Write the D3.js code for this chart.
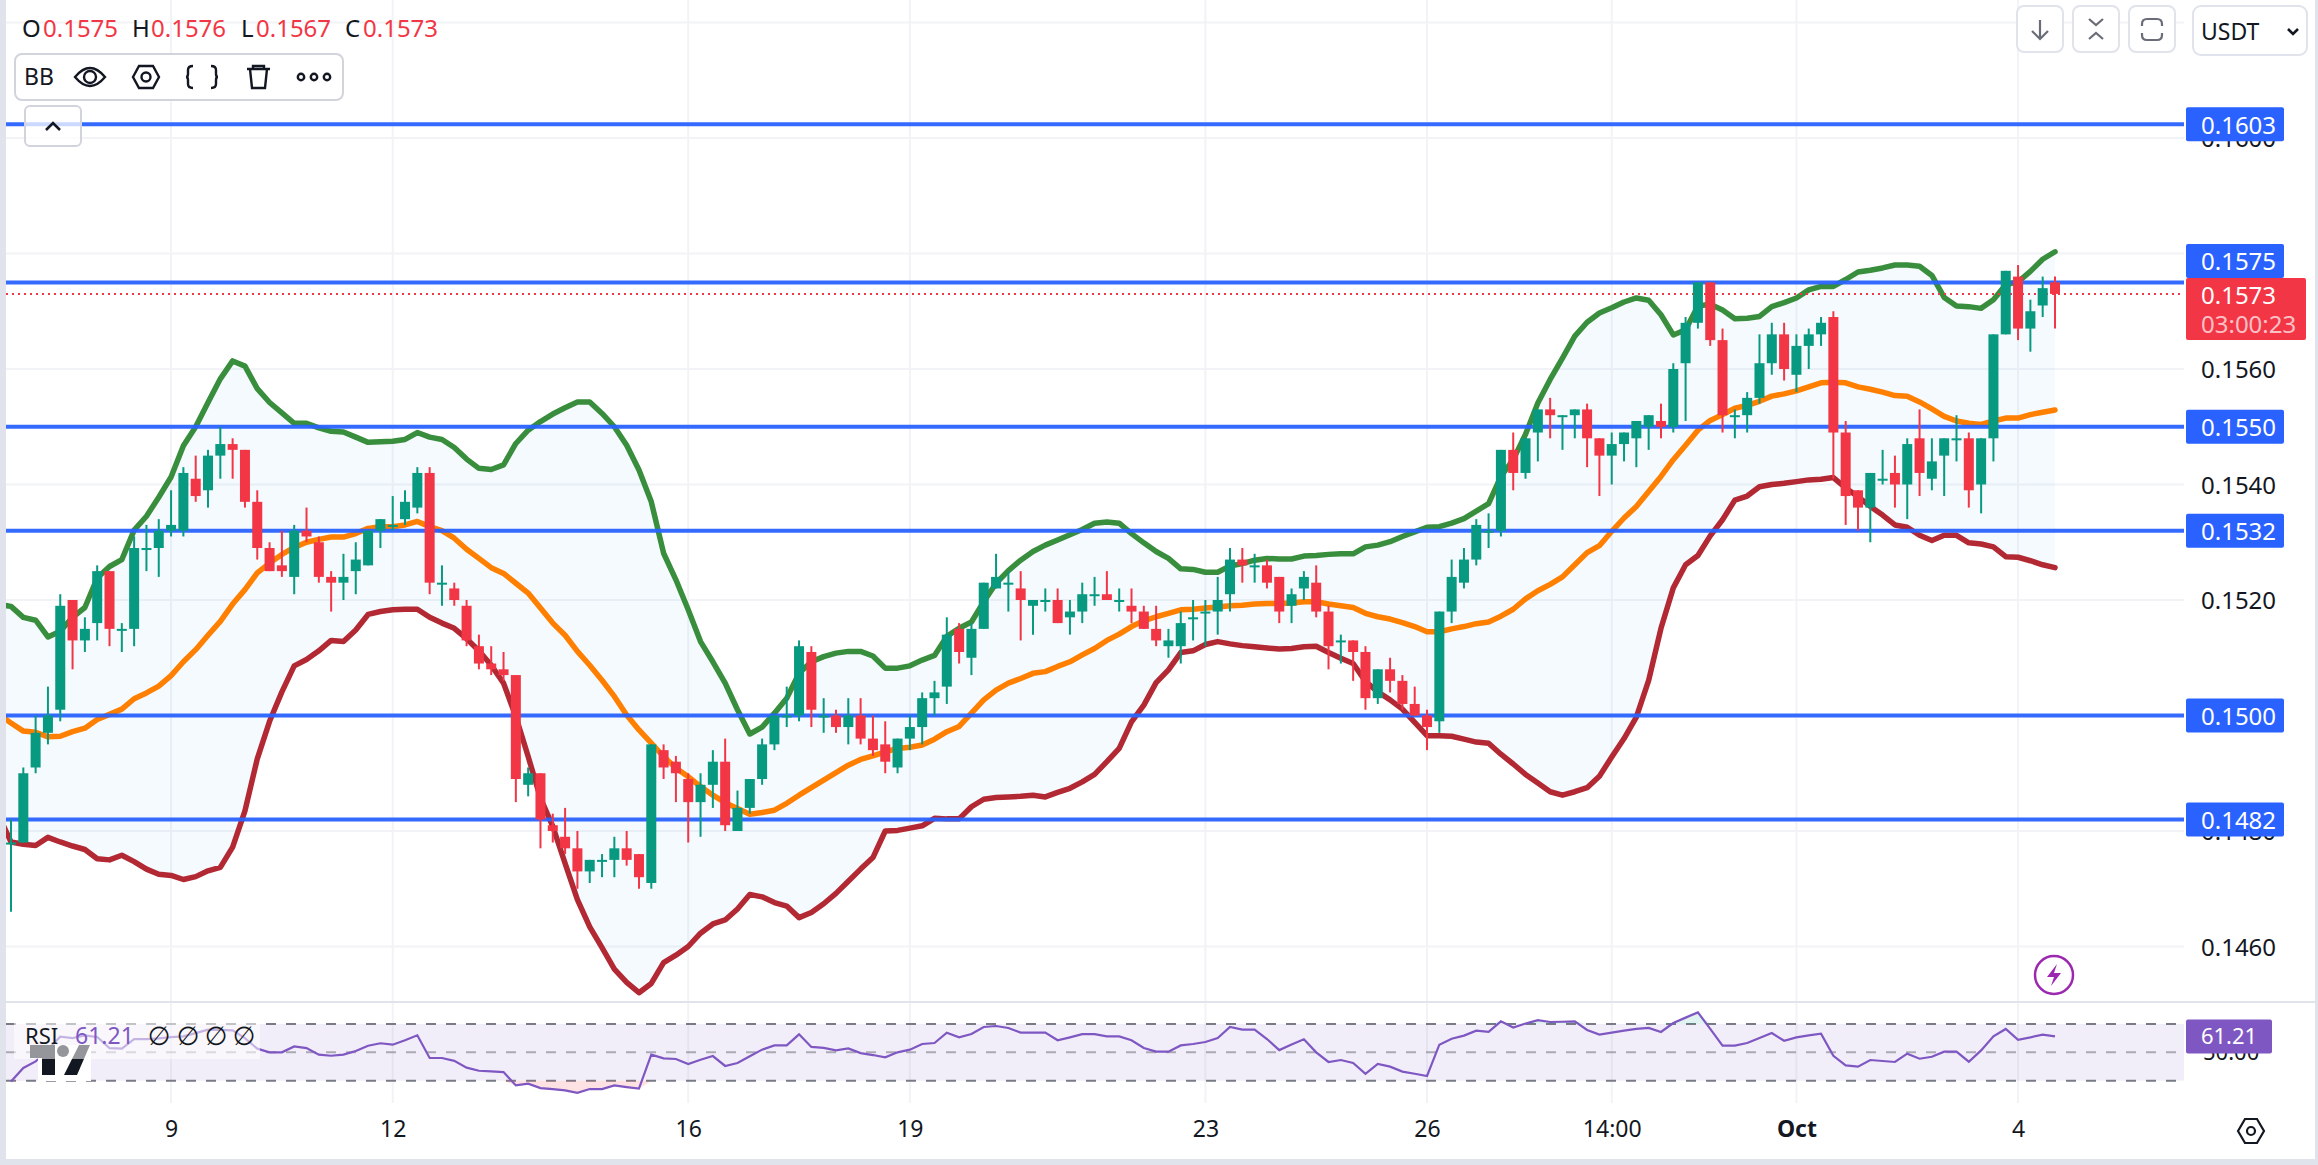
<!DOCTYPE html>
<html>
<head>
<meta charset="utf-8">
<title>USDT 4h chart</title>
<script src="https://cdnjs.cloudflare.com/ajax/libs/d3/7.8.5/d3.min.js"></script>
<style>
  html, body { margin: 0; padding: 0; background: #fff; overflow: hidden; }
  svg { display: block; }
  text { font-family: "Noto Sans", "DejaVu Sans", sans-serif; }
</style>
</head>
<body>
<svg id="chart" width="2318" height="1165"></svg>
<script>
// candles, one entry per 4h bar
const opens = [0.1478,0.1478,0.1491,0.1497,0.1501,0.1520,0.1513,0.1516,0.1525,0.1515,0.1515,0.1529,0.1529,0.1532,0.1532,0.1541,0.1539,0.1545,0.1547,0.1546,0.1537,0.1529,0.1526,0.1524,0.1532,0.1530,0.1524,0.1523,0.1525,0.1526,0.1532,0.1533,0.1534,0.1536,0.1542,0.1523,0.1522,0.1519,0.1512,0.1509,0.1508,0.1507,0.1488,0.1490,0.1481,0.1479,0.1477,0.1473,0.1475,0.1475,0.1477,0.1476,0.1471,0.1494,0.1492,0.1489,0.1485,0.1488,0.1492,0.1480,0.1484,0.1489,0.1495,0.1500,0.1500,0.1511,0.1500,0.1500,0.1498,0.1500,0.1496,0.1495,0.1491,0.1496,0.1498,0.1503,0.1505,0.1515,0.1510,0.1515,0.1522,0.1523,0.1522,0.1519,0.1520,0.1520,0.1517,0.1518,0.1521,0.1521,0.1520,0.1519,0.1518,0.1515,0.1512,0.1512,0.1517,0.1518,0.1518,0.1521,0.1527,0.1526,0.1526,0.1524,0.1519,0.1522,0.1523,0.1518,0.1513,0.1513,0.1511,0.1503,0.1508,0.1506,0.1502,0.1500,0.1499,0.1518,0.1523,0.1527,0.1532,0.1532,0.1546,0.1542,0.1549,0.1553,0.1552,0.1552,0.1553,0.1548,0.1545,0.1547,0.1548,0.1550,0.1551,0.1550,0.1561,0.1568,0.1575,0.1565,0.1552,0.1552,0.1555,0.1561,0.1566,0.1559,0.1564,0.1566,0.1569,0.1549,0.1539,0.1536,0.1541,0.1542,0.1540,0.1548,0.1541,0.1545,0.1548,0.1548,0.1540,0.1548,0.1566,0.1576,0.1567,0.1571,0.1575];
const highs = [0.1482,0.1491,0.1500,0.1505,0.1521,0.1520,0.1517,0.1526,0.1525,0.1516,0.1531,0.1533,0.1534,0.1539,0.1543,0.1545,0.1546,0.1550,0.1548,0.1546,0.1539,0.1530,0.1532,0.1533,0.1536,0.1531,0.1525,0.1528,0.1530,0.1532,0.1534,0.1538,0.1539,0.1543,0.1543,0.1526,0.1523,0.1520,0.1514,0.1512,0.1511,0.1507,0.1491,0.1490,0.1483,0.1484,0.1480,0.1475,0.1476,0.1479,0.1480,0.1476,0.1495,0.1495,0.1493,0.1490,0.1490,0.1494,0.1496,0.1487,0.1489,0.1496,0.1500,0.1505,0.1513,0.1512,0.1503,0.1501,0.1503,0.1503,0.1500,0.1499,0.1496,0.1500,0.1504,0.1506,0.1517,0.1516,0.1516,0.1523,0.1528,0.1525,0.1525,0.1520,0.1522,0.1522,0.1520,0.1523,0.1524,0.1525,0.1522,0.1522,0.1519,0.1519,0.1515,0.1518,0.1520,0.1520,0.1524,0.1529,0.1529,0.1528,0.1527,0.1524,0.1522,0.1525,0.1526,0.1519,0.1514,0.1513,0.1512,0.1508,0.1510,0.1507,0.1505,0.1501,0.1518,0.1527,0.1529,0.1534,0.1535,0.1546,0.1549,0.1548,0.1553,0.1555,0.1552,0.1553,0.1554,0.1548,0.1549,0.1549,0.1551,0.1552,0.1554,0.1561,0.1569,0.1575,0.1575,0.1567,0.1553,0.1556,0.1566,0.1568,0.1568,0.1566,0.1567,0.1569,0.1570,0.1551,0.1539,0.1542,0.1546,0.1545,0.1548,0.1553,0.1548,0.1548,0.1552,0.1549,0.1548,0.1566,0.1577,0.1578,0.1572,0.1576,0.1576];
const lows = [0.1466,0.1478,0.1490,0.1495,0.1499,0.1508,0.1511,0.1513,0.1512,0.1511,0.1512,0.1525,0.1524,0.1531,0.1531,0.1537,0.1536,0.1541,0.1541,0.1536,0.1527,0.1525,0.1524,0.1521,0.1530,0.1523,0.1518,0.1520,0.1521,0.1526,0.1529,0.1532,0.1533,0.1535,0.1521,0.1519,0.1519,0.1512,0.1508,0.1507,0.1506,0.1485,0.1486,0.1477,0.1478,0.1476,0.1470,0.1471,0.1472,0.1472,0.1474,0.1470,0.1470,0.1489,0.1485,0.1478,0.1479,0.1484,0.1480,0.1480,0.1483,0.1488,0.1494,0.1498,0.1499,0.1498,0.1497,0.1497,0.1495,0.1495,0.1493,0.1490,0.1490,0.1494,0.1495,0.1500,0.1502,0.1509,0.1507,0.1515,0.1522,0.1518,0.1513,0.1514,0.1518,0.1516,0.1514,0.1516,0.1519,0.1520,0.1518,0.1516,0.1515,0.1512,0.1510,0.1509,0.1513,0.1512,0.1514,0.1518,0.1523,0.1523,0.1522,0.1516,0.1516,0.1520,0.1517,0.1508,0.1509,0.1506,0.1501,0.1502,0.1504,0.1501,0.1500,0.1494,0.1497,0.1516,0.1522,0.1526,0.1529,0.1531,0.1539,0.1541,0.1544,0.1548,0.1546,0.1548,0.1543,0.1538,0.1540,0.1544,0.1543,0.1546,0.1548,0.1549,0.1551,0.1567,0.1564,0.1549,0.1548,0.1549,0.1554,0.1559,0.1558,0.1556,0.1560,0.1564,0.1541,0.1533,0.1532,0.1530,0.1540,0.1536,0.1534,0.1538,0.1539,0.1538,0.1544,0.1536,0.1535,0.1544,0.1566,0.1565,0.1563,0.1569,0.1567];
const closes = [0.1478,0.1490,0.1497,0.1500,0.1519,0.1513,0.1515,0.1525,0.1515,0.1515,0.1529,0.1529,0.1532,0.1533,0.1542,0.1538,0.1545,0.1547,0.1546,0.1537,0.1529,0.1525,0.1525,0.1532,0.1531,0.1524,0.1523,0.1524,0.1527,0.1532,0.1534,0.1533,0.1537,0.1542,0.1523,0.1523,0.1520,0.1513,0.1509,0.1508,0.1507,0.1489,0.1490,0.1482,0.1480,0.1477,0.1473,0.1475,0.1475,0.1477,0.1475,0.1472,0.1495,0.1491,0.1490,0.1485,0.1488,0.1492,0.1481,0.1484,0.1489,0.1495,0.1500,0.1500,0.1512,0.1501,0.1500,0.1498,0.1500,0.1496,0.1494,0.1492,0.1496,0.1498,0.1503,0.1504,0.1514,0.1511,0.1515,0.1523,0.1524,0.1523,0.1520,0.1520,0.1520,0.1516,0.1518,0.1521,0.1521,0.1520,0.1520,0.1518,0.1515,0.1513,0.1513,0.1516,0.1517,0.1518,0.1520,0.1527,0.1526,0.1526,0.1523,0.1518,0.1521,0.1524,0.1518,0.1512,0.1513,0.1511,0.1503,0.1508,0.1506,0.1502,0.1500,0.1498,0.1518,0.1524,0.1527,0.1533,0.1532,0.1546,0.1542,0.1548,0.1553,0.1552,0.1552,0.1553,0.1548,0.1545,0.1547,0.1549,0.1551,0.1552,0.1550,0.1560,0.1568,0.1575,0.1565,0.1552,0.1552,0.1555,0.1561,0.1566,0.1560,0.1564,0.1566,0.1568,0.1549,0.1538,0.1536,0.1542,0.1541,0.1540,0.1547,0.1542,0.1544,0.1548,0.1548,0.1539,0.1548,0.1566,0.1577,0.1567,0.1570,0.1574,0.1573];

const bbUpper = [0.15192,0.15189,0.15170,0.15165,0.15136,0.15146,0.15170,0.15187,0.15238,0.15258,0.15270,0.15321,0.15345,0.15378,0.15413,0.15467,0.15500,0.15542,0.15583,0.15614,0.15605,0.15566,0.15542,0.15524,0.15506,0.15506,0.15498,0.15492,0.15491,0.15482,0.15473,0.15474,0.15475,0.15478,0.15490,0.15482,0.15478,0.15464,0.15444,0.15428,0.15426,0.15434,0.15471,0.15494,0.15509,0.15522,0.15533,0.15543,0.15543,0.15523,0.15500,0.15468,0.15425,0.15370,0.15281,0.15235,0.15183,0.15128,0.15093,0.15056,0.15010,0.14968,0.14980,0.15004,0.15030,0.15073,0.15093,0.15102,0.15108,0.15111,0.15111,0.15103,0.15082,0.15082,0.15086,0.15096,0.15104,0.15137,0.15151,0.15162,0.15197,0.15229,0.15251,0.15269,0.15284,0.15295,0.15304,0.15313,0.15322,0.15333,0.15335,0.15333,0.15315,0.15299,0.15284,0.15272,0.15254,0.15253,0.15248,0.15248,0.15259,0.15263,0.15269,0.15272,0.15271,0.15271,0.15276,0.15277,0.15279,0.15280,0.15280,0.15292,0.15295,0.15301,0.15310,0.15318,0.15326,0.15327,0.15333,0.15341,0.15354,0.15367,0.15414,0.15443,0.15487,0.15541,0.15582,0.15619,0.15657,0.15681,0.15697,0.15706,0.15716,0.15723,0.15719,0.15694,0.15659,0.15668,0.15709,0.15712,0.15702,0.15687,0.15688,0.15691,0.15708,0.15715,0.15723,0.15737,0.15743,0.15743,0.15755,0.15768,0.15771,0.15775,0.15780,0.15780,0.15778,0.15762,0.15724,0.15709,0.15708,0.15705,0.15720,0.15746,0.15751,0.15769,0.15790,0.15803];
const bbBasis = [0.15002,0.14987,0.14973,0.14971,0.14963,0.14964,0.14972,0.14978,0.14993,0.15002,0.15011,0.15029,0.15039,0.15051,0.15069,0.15093,0.15114,0.15139,0.15163,0.15193,0.15218,0.15247,0.15264,0.15279,0.15291,0.15300,0.15305,0.15309,0.15309,0.15315,0.15324,0.15327,0.15327,0.15330,0.15336,0.15327,0.15320,0.15307,0.15288,0.15272,0.15256,0.15246,0.15229,0.15212,0.15186,0.15160,0.15139,0.15111,0.15087,0.15061,0.15033,0.15001,0.14975,0.14952,0.14929,0.14909,0.14894,0.14877,0.14862,0.14849,0.14839,0.14829,0.14832,0.14836,0.14848,0.14862,0.14875,0.14888,0.14901,0.14914,0.14924,0.14930,0.14937,0.14943,0.14945,0.14949,0.14959,0.14972,0.14981,0.15004,0.15027,0.15044,0.15056,0.15064,0.15073,0.15076,0.15085,0.15093,0.15105,0.15116,0.15130,0.15141,0.15154,0.15164,0.15171,0.15177,0.15183,0.15184,0.15186,0.15188,0.15190,0.15191,0.15193,0.15194,0.15194,0.15195,0.15197,0.15197,0.15193,0.15190,0.15187,0.15177,0.15171,0.15167,0.15161,0.15154,0.15145,0.15145,0.15150,0.15154,0.15159,0.15162,0.15172,0.15184,0.15202,0.15216,0.15227,0.15240,0.15261,0.15282,0.15294,0.15319,0.15342,0.15362,0.15388,0.15414,0.15443,0.15468,0.15494,0.15511,0.15521,0.15532,0.15537,0.15544,0.15553,0.15557,0.15562,0.15569,0.15576,0.15577,0.15576,0.15569,0.15565,0.15560,0.15554,0.15553,0.15543,0.15531,0.15518,0.15510,0.15506,0.15504,0.15510,0.15515,0.15515,0.15521,0.15525,0.15529];
const bbLower = [0.14827,0.14781,0.14777,0.14775,0.14789,0.14781,0.14774,0.14768,0.14752,0.14750,0.14758,0.14747,0.14734,0.14725,0.14723,0.14716,0.14721,0.14731,0.14737,0.14772,0.14835,0.14925,0.14990,0.15041,0.15086,0.15097,0.15112,0.15130,0.15128,0.15148,0.15175,0.15180,0.15183,0.15184,0.15184,0.15170,0.15160,0.15151,0.15133,0.15112,0.15087,0.15056,0.14998,0.14929,0.14857,0.14808,0.14744,0.14681,0.14634,0.14598,0.14561,0.14538,0.14520,0.14536,0.14572,0.14585,0.14600,0.14623,0.14639,0.14646,0.14665,0.14690,0.14686,0.14676,0.14670,0.14650,0.14659,0.14674,0.14692,0.14713,0.14734,0.14754,0.14800,0.14801,0.14805,0.14809,0.14822,0.14821,0.14821,0.14842,0.14855,0.14858,0.14859,0.14860,0.14862,0.14859,0.14867,0.14874,0.14885,0.14898,0.14920,0.14943,0.14989,0.15018,0.15057,0.15079,0.15109,0.15112,0.15123,0.15128,0.15124,0.15121,0.15119,0.15117,0.15115,0.15116,0.15119,0.15120,0.15109,0.15099,0.15090,0.15059,0.15041,0.15027,0.15011,0.14988,0.14965,0.14965,0.14964,0.14959,0.14954,0.14952,0.14933,0.14916,0.14898,0.14883,0.14868,0.14862,0.14868,0.14875,0.14895,0.14928,0.14960,0.14997,0.15061,0.15151,0.15221,0.15261,0.15277,0.15311,0.15339,0.15373,0.15380,0.15396,0.15400,0.15402,0.15405,0.15408,0.15409,0.15412,0.15394,0.15379,0.15362,0.15347,0.15330,0.15326,0.15312,0.15303,0.15312,0.15312,0.15299,0.15297,0.15292,0.15275,0.15274,0.15268,0.15261,0.15256];

// rsi pane
const rsiValues = [29.5,39,43.6,52,61,60,62,60.8,53,52.6,59.4,59.4,59.9,60.8,61.3,63.6,66,65.8,65.5,60,52.6,50,50,54.2,53,48.4,47.6,48.4,51,54.7,56.4,55.4,58.5,62,46,46,44,39.2,37,36.6,36.1,26.7,27.9,24.8,24.1,23.2,21.5,24.1,24.1,26.7,25.5,24.4,48.4,45.8,45.3,41.8,44.8,47.4,40.4,42.5,47.2,51.9,54.9,54.9,62.7,53.8,53.1,51.4,52.8,49.5,48.1,46.5,50,51.9,55.9,56.6,63.9,60.6,62.9,67.9,68.6,67.2,63.9,63.9,63.9,58.5,60.6,62.9,62.9,61.3,61.3,58.5,53.1,50.5,50.5,54.9,55.9,57.3,60.1,67.9,66,66,59.4,51.6,55.6,59.2,50,43.2,44.6,42.5,34.9,41.8,39.9,36.4,34.9,33.3,55.4,59.6,61.8,65.3,64.4,71.9,67.5,70.3,72.7,71.4,71.6,71.9,65.8,62.5,63.9,65.3,66.5,67.2,64.4,70.7,74.5,78.2,66.5,54.7,54.7,56.6,60.1,63.6,58.2,60.6,62,63.2,47.6,40.8,39.9,44.6,43.9,43.2,49.1,45.5,46.9,50.5,50.5,43.4,51.4,61.3,66.5,58.9,60.6,62.5,61.21];
const rsiBands = [70, 50, 30];

// drawn levels and axes
const levelValues = [0.16024, 0.1575, 0.1550, 0.1532, 0.1500, 0.1482];
const levelLabels = ["0.1603", "0.1575", "0.1550", "0.1532", "0.1500", "0.1482"];
const priceTicks = [0.1460, 0.1480, 0.1520, 0.1540, 0.1560, 0.1600];
const gridTicks = [0.1460, 0.1480, 0.1500, 0.1520, 0.1540, 0.1560, 0.1580, 0.1600, 0.1620];
const timeTickIndex = [13, 31, 55, 73, 97, 115, 130, 145, 163];
const timeTickLabels = ["9", "12", "16", "19", "23", "26", "14:00", "Oct", "4"];
const ohlcLegend = [["O", "0.1575"], ["H", "0.1576"], ["L", "0.1567"], ["C", "0.1573"]];
const lastPrice = 0.1573;
const lastRsi = 61.21;

const plotLeft = 6, plotRight = 2184, paneBottom = 1002, rsiBottom = 1103;
const dark = "#131722", upCol = "#089981", downCol = "#f23645", blue = "#2962ff", purple = "#7e57c2";

const svg = d3.select("#chart");
const bars = closes.map((c, i) => ({ i, o: opens[i], h: highs[i], l: lows[i], c }));

const xScale = d3.scaleLinear().domain([0, 166]).range([11, 2055]);
const yScale = d3.scaleLinear().domain([0.1520, 0.1620]).range([600, 22.5]);
const rsiScale = d3.scaleLinear().domain([30, 70]).range([1080.7, 1024]);

// page frame
svg.append("rect").attr("width", 2318).attr("height", 1165).attr("fill", "#fff");
svg.append("rect").attr("width", plotLeft).attr("height", 1165).attr("fill", "#e0e3eb");
svg.append("rect").attr("x", 2315).attr("width", 3).attr("height", 1165).attr("fill", "#e0e3eb");
svg.append("rect").attr("y", 1159).attr("width", 2318).attr("height", 6).attr("fill", "#e0e3eb");
svg.append("rect").attr("x", plotLeft).attr("y", paneBottom - 1).attr("width", 2312).attr("height", 2).attr("fill", "#e0e3eb");

svg.append("defs").append("clipPath").attr("id", "plot")
  .append("rect").attr("x", plotLeft).attr("y", 0).attr("width", plotRight - plotLeft).attr("height", paneBottom - 1);

// grid
const grid = svg.append("g").attr("stroke", "#f2f3f6").attr("stroke-width", 2);
grid.selectAll(".h").data(gridTicks).enter().append("line")
  .attr("x1", plotLeft).attr("x2", plotRight)
  .attr("y1", d => yScale(d)).attr("y2", d => yScale(d));
grid.selectAll(".v").data(timeTickIndex).enter().append("line")
  .attr("x1", d => xScale(d)).attr("x2", d => xScale(d))
  .attr("y1", 0).attr("y2", paneBottom - 1);
grid.selectAll(".v2").data(timeTickIndex).enter().append("line")
  .attr("x1", d => xScale(d)).attr("x2", d => xScale(d))
  .attr("y1", paneBottom + 1).attr("y2", rsiBottom);

// price axis, the level tags sit on top of it later
const priceAxis = svg.append("g").attr("transform", "translate(2201,1)")
  .call(d3.axisRight(yScale).tickValues(priceTicks).tickSize(0).tickPadding(0).tickFormat(d3.format(".4f")));
priceAxis.select(".domain").remove();
priceAxis.selectAll("text").attr("font-size", 24).attr("fill", dark).style("font-family", '"Noto Sans"');

// time axis
const timeAxis = svg.append("g").attr("transform", "translate(0,1121)")
  .call(d3.axisBottom(xScale).tickValues(timeTickIndex).tickSize(0).tickPadding(0)
    .tickFormat((d, i) => timeTickLabels[i]));
timeAxis.select(".domain").remove();
timeAxis.selectAll("text")
  .attr("font-size", 23).attr("fill", dark).style("font-family", '"Noto Sans"')
  .attr("font-weight", (d, i) => timeTickLabels[i] === "Oct" ? 700 : 400);

// main pane
const plot = svg.append("g").attr("clip-path", "url(#plot)");

// band arrays start one bar before the candles
const bandArea = d3.area().x((d, i) => xScale(i - 1)).y0((d, i) => yScale(bbLower[i])).y1(d => yScale(d));
plot.append("path").datum(bbUpper).attr("d", bandArea).attr("fill", "#2196f3").attr("fill-opacity", 0.05);

const bandLine = d3.line().x((d, i) => xScale(i - 1)).y(d => yScale(d));
[[bbUpper, "#388e3c"], [bbBasis, "#ff7f00"], [bbLower, "#b22833"]].forEach(s => {
  plot.append("path").datum(s[0]).attr("d", bandLine)
    .attr("fill", "none").attr("stroke", s[1]).attr("stroke-width", 5.5)
    .attr("stroke-linejoin", "round").attr("stroke-linecap", "round");
});

plot.selectAll(".level").data(levelValues).enter().append("line")
  .attr("x1", plotLeft).attr("x2", plotRight)
  .attr("y1", d => yScale(d)).attr("y2", d => yScale(d))
  .attr("stroke", blue).attr("stroke-width", 4).attr("stroke-opacity", 0.95);

plot.append("line")
  .attr("x1", plotLeft).attr("x2", 2180)
  .attr("y1", yScale(lastPrice)).attr("y2", yScale(lastPrice))
  .attr("stroke", downCol).attr("stroke-width", 2).attr("stroke-dasharray", "2 4");

// candles
const barCol = d => d.c >= d.o ? upCol : downCol;
plot.selectAll(".wick").data(bars).enter().append("line")
  .attr("x1", d => xScale(d.i)).attr("x2", d => xScale(d.i))
  .attr("y1", d => yScale(d.h)).attr("y2", d => yScale(d.l))
  .attr("stroke", barCol).attr("stroke-width", 2);
plot.selectAll(".body").data(bars).enter().append("rect")
  .attr("x", d => xScale(d.i) - 5).attr("width", 10)
  .attr("y", d => yScale(Math.max(d.o, d.c)))
  .attr("height", d => Math.max(2, Math.abs(yScale(d.o) - yScale(d.c))))
  .attr("fill", barCol);

// rsi pane
svg.append("rect").attr("x", plotLeft).attr("width", plotRight - plotLeft)
  .attr("y", rsiScale(70)).attr("height", rsiScale(30) - rsiScale(70))
  .attr("fill", purple).attr("fill-opacity", 0.1);
svg.selectAll(".rsiBand").data(rsiBands).enter().append("line")
  .attr("x1", plotLeft).attr("x2", plotRight)
  .attr("y1", d => rsiScale(d)).attr("y2", d => rsiScale(d))
  .attr("stroke", "#787b86").attr("stroke-width", 2).attr("stroke-dasharray", "10 10")
  .attr("stroke-opacity", d => d === 50 ? 0.6 : 1);

const rsiOver = d3.area().x((d, i) => xScale(i)).y0(rsiScale(70)).y1(d => rsiScale(Math.max(d, 70)));
const rsiUnder = d3.area().x((d, i) => xScale(i)).y0(rsiScale(30)).y1(d => rsiScale(Math.min(d, 30)));
svg.append("path").datum(rsiValues).attr("d", rsiOver).attr("fill", upCol).attr("fill-opacity", 0.12);
svg.append("path").datum(rsiValues).attr("d", rsiUnder).attr("fill", downCol).attr("fill-opacity", 0.15);
svg.append("path").datum(rsiValues).attr("fill", "none").attr("stroke", purple).attr("stroke-width", 2.2)
  .attr("d", d3.line().x((d, i) => xScale(i)).y(d => rsiScale(d)));

// logo and rsi legend
svg.append("rect").attr("x", 38).attr("y", 1045).attr("width", 53).attr("height", 36).attr("fill", "#fff");
svg.append("path").attr("fill", dark)
  .attr("d", "M30 1045H55V1075H42V1058H30Z");
svg.append("circle").attr("cx", 63).attr("cy", 1051).attr("r", 6).attr("fill", dark);
svg.append("path").attr("fill", dark).attr("d", "M79 1045H90L77 1075H64Z");
svg.append("rect").attr("x", 14).attr("y", 1023).attr("width", 246).attr("height", 36)
  .attr("fill", "#fff").attr("fill-opacity", 0.55);
svg.append("text").attr("x", 25).attr("y", 1044).attr("font-size", 22).attr("fill", dark).text("RSI");
svg.append("text").attr("x", 75).attr("y", 1044).attr("font-size", 23).attr("fill", purple).text("61.21");
svg.selectAll(".nul").data([159, 188, 216, 244]).enter().append("text")
  .attr("x", d => d).attr("y", 1045).attr("text-anchor", "middle")
  .attr("font-size", 26).attr("fill", dark).style("font-family", '"DejaVu Sans"').text("\u2205");

// ohlc legend
const legendX = [22, 132, 241, 345], valueX = [43, 151, 256, 363];
ohlcLegend.forEach((d, i) => {
  svg.append("text").attr("x", legendX[i]).attr("y", 37).attr("font-size", 24).attr("fill", dark).text(d[0]);
  svg.append("text").attr("x", valueX[i]).attr("y", 37).attr("font-size", 24).attr("fill", downCol).text(d[1]);
});

// BB toolbar
svg.append("rect").attr("x", 15).attr("y", 54).attr("width", 328).attr("height", 46).attr("rx", 7)
  .attr("fill", "#fff").attr("stroke", "#d1d4dc").attr("stroke-width", 2);
svg.append("text").attr("x", 24).attr("y", 85).attr("font-size", 23).attr("fill", dark).text("BB");
const ic = svg.append("g").attr("fill", "none").attr("stroke", dark).attr("stroke-width", 2.4);
ic.append("path").attr("d", "M75 77Q90 59 105 77Q90 95 75 77Z");
ic.append("circle").attr("cx", 90).attr("cy", 77).attr("r", 6);
ic.append("path").attr("d", "M133 77L139 66H153L159 77L153 88H139Z");
ic.append("circle").attr("cx", 146).attr("cy", 77).attr("r", 4.5);
ic.append("path").attr("d", "M193 66Q188 66 188 70V74Q188 77 186 77Q188 77 188 80V84Q188 88 193 88");
ic.append("path").attr("d", "M211 66Q216 66 216 70V74Q216 77 218 77Q216 77 216 80V84Q216 88 211 88");
ic.append("path").attr("d", "M247 69H270M253 69V66H264V69M250 69L252 88H265L267 69");
[301, 314, 327].forEach(x => ic.append("circle").attr("cx", x).attr("cy", 77).attr("r", 3.2));

// collapse button
svg.append("rect").attr("x", 25).attr("y", 106).attr("width", 56).attr("height", 40).attr("rx", 5)
  .attr("fill", "#fff").attr("fill-opacity", 0.75).attr("stroke", "#d1d4dc").attr("stroke-width", 2);
svg.append("path").attr("d", "M46 130L53 123L60 130").attr("fill", "none").attr("stroke", dark).attr("stroke-width", 2.6);

// top right buttons
[[2017, 46], [2073, 46], [2129, 46]].forEach(b => {
  svg.append("rect").attr("x", b[0]).attr("y", 6).attr("width", b[1]).attr("height", 46).attr("rx", 7)
    .attr("fill", "#fff").attr("stroke", "#e0e3eb").attr("stroke-width", 2);
});
const gi = svg.append("g").attr("fill", "none").attr("stroke", "#6a6d78").attr("stroke-width", 2.2);
gi.append("path").attr("d", "M2040 20V39M2032 31L2040 39L2048 31");
gi.append("path").attr("d", "M2089 19L2096 25L2103 19M2089 39L2096 33L2103 39");
gi.append("path").attr("d", "M2142 26V24Q2142 19 2147 19H2157Q2162 19 2162 24V26M2142 33V35Q2142 40 2147 40H2157Q2162 40 2162 35V33");
svg.append("rect").attr("x", 2193).attr("y", 6).attr("width", 114).attr("height", 49).attr("rx", 8)
  .attr("fill", "#fff").attr("stroke", "#e0e3eb").attr("stroke-width", 2);
svg.append("text").attr("x", 2201).attr("y", 40).attr("font-size", 23).attr("fill", dark).text("USDT");
svg.append("path").attr("d", "M2288 29L2293 34L2298 29").attr("fill", "none").attr("stroke", dark).attr("stroke-width", 2.6);

// price tags
const lastY = yScale(lastPrice);
const redTop = lastY - 16;
const tags = svg.append("g");
levelValues.forEach((v, i) => {
  const boxY = Math.min(yScale(v) - 17, v > lastPrice && yScale(v) > redTop - 34 ? redTop - 34 : Infinity);
  tags.append("rect").attr("x", 2186).attr("y", boxY).attr("width", 98).attr("height", 34).attr("rx", 2).attr("fill", blue);
  tags.append("text").attr("x", 2201).attr("y", boxY + 18).attr("dy", "0.35em")
    .attr("font-size", 24).attr("fill", "#fff").text(levelLabels[i]);
});
tags.append("rect").attr("x", 2186).attr("y", redTop).attr("width", 120).attr("height", 62).attr("rx", 2).attr("fill", downCol);
tags.append("text").attr("x", 2201).attr("y", lastY + 2).attr("dy", "0.35em").attr("font-size", 24).attr("fill", "#fff").text("0.1573");
tags.append("text").attr("x", 2201).attr("y", lastY + 31).attr("dy", "0.35em").attr("font-size", 24)
  .attr("fill", "#fff").attr("fill-opacity", 0.7).text("03:00:23");

// rsi axis
svg.append("text").attr("x", 2203).attr("y", rsiScale(50)).attr("dy", "0.35em").attr("font-size", 22).attr("fill", dark).text("50.00");
svg.append("rect").attr("x", 2186).attr("y", rsiScale(lastRsi) - 17).attr("width", 86).attr("height", 34).attr("rx", 2).attr("fill", purple);
svg.append("text").attr("x", 2229).attr("y", rsiScale(lastRsi)).attr("dy", "0.35em").attr("text-anchor", "middle")
  .attr("font-size", 22).attr("fill", "#fff").text("61.21");

// lightning badge
svg.append("circle").attr("cx", 2054).attr("cy", 975).attr("r", 19)
  .attr("fill", "#fff").attr("stroke", "#9c27b0").attr("stroke-width", 2.5);
svg.append("path").attr("d", "M2057 964L2047 977H2054L2051 986L2061 973H2054Z").attr("fill", "#9c27b0");

// settings hexagon under the scale
const gear = svg.append("g").attr("fill", "none").attr("stroke", dark).attr("stroke-width", 2.2);
gear.append("path").attr("d", "M2238 1131L2245 1119H2257L2264 1131L2257 1143H2245Z");
gear.append("circle").attr("cx", 2251).attr("cy", 1131).attr("r", 4);
</script>
</body>
</html>
